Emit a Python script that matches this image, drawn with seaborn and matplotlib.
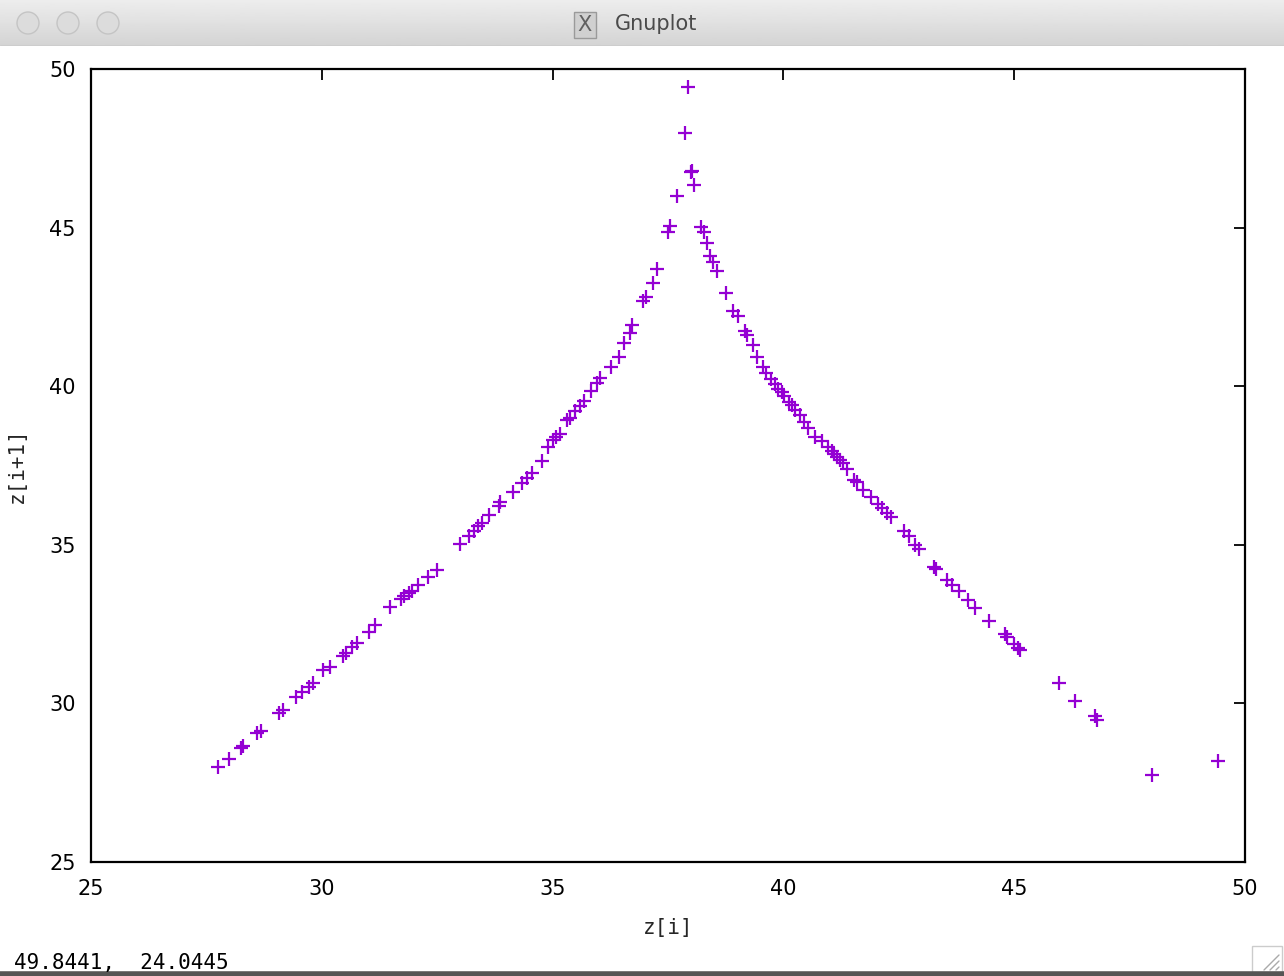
import numpy as np
import pandas as pd
import matplotlib
matplotlib.use("Agg")
import matplotlib.pyplot as plt
import seaborn as sns
from matplotlib.patches import Circle, Rectangle
from matplotlib.lines import Line2D

# ---- data: successive maxima z[i] -> z[i+1] (Lorenz map) ----
left_zi = [27.75, 27.99, 28.25, 28.29, 28.60, 28.68, 29.07, 29.16, 29.44, 29.57,
           29.72, 29.81, 30.03, 30.18, 30.46, 30.52, 30.65, 30.76, 31.02, 31.15,
           31.48, 31.72, 31.78, 31.89, 31.95, 32.08, 32.30, 32.50, 32.99, 33.19,
           33.30, 33.38, 33.47, 33.62, 33.84, 33.86, 34.14, 34.34, 34.45, 34.55,
           34.77, 34.90, 35.01, 35.07, 35.16, 35.31, 35.38, 35.49, 35.59, 35.68,
           35.83, 35.96, 36.03, 36.27, 36.44, 36.55, 36.68, 36.72, 36.96, 37.02,
           37.18, 37.26, 37.50, 37.54, 37.70, 37.87, 37.93, 38.00, 38.02, 38.06]
left_zi1 = [28.00, 28.25, 28.59, 28.66, 29.07, 29.13, 29.70, 29.79, 30.20, 30.36,
            30.52, 30.64, 31.05, 31.15, 31.49, 31.59, 31.78, 31.90, 32.25, 32.47,
            33.04, 33.29, 33.39, 33.48, 33.54, 33.73, 33.98, 34.21, 35.03, 35.28,
            35.44, 35.59, 35.69, 35.94, 36.22, 36.35, 36.66, 36.95, 37.11, 37.26,
            37.64, 38.08, 38.30, 38.40, 38.49, 38.93, 39.00, 39.22, 39.38, 39.53,
            39.85, 40.10, 40.26, 40.61, 40.92, 41.36, 41.68, 41.93, 42.69, 42.81,
            43.25, 43.69, 44.86, 45.05, 46.00, 47.98, 49.43, 46.76, 46.78, 46.34]

right_zi = [38.21, 38.28, 38.34, 38.41, 38.47, 38.56, 38.76, 38.91, 39.02, 39.17,
            39.21, 39.34, 39.43, 39.56, 39.62, 39.73, 39.82, 39.88, 39.97, 40.01,
            40.12, 40.19, 40.25, 40.36, 40.45, 40.53, 40.68, 40.84, 40.97, 41.05,
            41.10, 41.16, 41.23, 41.29, 41.38, 41.53, 41.59, 41.72, 41.90, 42.05,
            42.14, 42.24, 42.33, 42.61, 42.72, 42.85, 42.94, 43.26, 43.31, 43.54,
            43.65, 43.80, 44.00, 44.15, 44.45, 44.80, 44.84, 44.99, 45.08, 45.13,
            45.97, 46.32, 46.75, 46.79, 47.98, 49.41]
right_zi1 = [45.02, 44.86, 44.51, 44.10, 43.92, 43.63, 42.94, 42.37, 42.21, 41.74,
             41.61, 41.30, 40.92, 40.61, 40.42, 40.23, 40.07, 39.91, 39.82, 39.69,
             39.50, 39.41, 39.25, 39.09, 38.87, 38.68, 38.40, 38.27, 38.08, 37.96,
             37.86, 37.77, 37.67, 37.58, 37.39, 37.04, 36.98, 36.73, 36.51, 36.29,
             36.16, 36.00, 35.88, 35.44, 35.28, 34.99, 34.87, 34.30, 34.24, 33.89,
             33.73, 33.54, 33.26, 33.01, 32.60, 32.19, 32.09, 31.87, 31.75, 31.68,
             30.64, 30.08, 29.60, 29.48, 27.74, 28.18]

x_ticks = [25, 30, 35, 40, 45, 50]
y_ticks = [25, 30, 35, 40, 45, 50]
x_label = "z[i]"
y_label = "z[i+1]"
window_title = "Gnuplot"
status_text = "49.8441,  24.0445"

df = pd.DataFrame({"zi": left_zi + right_zi, "zi1": left_zi1 + right_zi1})

sns.set_style("white")
plt.rcParams["font.family"] = ["DejaVu Sans"]

W, H = 1284, 976
fig = plt.figure(figsize=(W / 100, H / 100), dpi=100)
fig.patch.set_facecolor("white")

ax = fig.add_axes([91 / W, 1 - 862 / H, (1245 - 91) / W, (862 - 69) / H])
sns.scatterplot(data=df, x="zi", y="zi1", marker="+", color="#9400D3",
                s=105, linewidth=1.6, ax=ax, legend=False)
ax.set_xlim(25, 50)
ax.set_ylim(25, 50)
ax.set_xticks(x_ticks)
ax.set_yticks(y_ticks)
ax.tick_params(direction="in", length=8, width=1.3, top=True, right=True,
               labelsize=15, pad=11, colors="black")
ax.tick_params(axis="x", pad=12)
for sp in ax.spines.values():
    sp.set_linewidth(1.6)
    sp.set_color("black")
ax.set_xlabel(x_label, fontsize=15, family="DejaVu Sans Mono", labelpad=14)
ax.set_ylabel(y_label, fontsize=15, family="DejaVu Sans Mono", labelpad=16)

# ---- window chrome ----
tb = fig.add_axes([0, 1 - 46 / H, 1, 46 / H])
grad = np.linspace(0.93, 0.83, 50).reshape(-1, 1)
tb.imshow(grad, cmap="gray", vmin=0, vmax=1, aspect="auto",
          extent=[0, W, 46, 0])
tb.set_xlim(0, W)
tb.set_ylim(46, 0)
tb.axis("off")
for cx in (28, 68, 108):
    tb.add_patch(Circle((cx, 23), 11, facecolor="#dcdcdc", edgecolor="#c4c4c4", lw=1))
tb.add_patch(Rectangle((574, 12), 22, 26, facecolor="#d0d0d0", edgecolor="#9a9a9a", lw=1))
tb.text(585, 25, "X", ha="center", va="center", fontsize=15, color="#606060")
tb.text(615, 24, window_title, ha="left", va="center", fontsize=15, color="#4a4a4a")
tb.plot([0, W], [45.5, 45.5], color="#b5b5b5", lw=1)

fig.text(14 / W, 1 - 963 / H, status_text, ha="left", va="center",
         fontsize=15, family="DejaVu Sans Mono", color="black")
fig.add_artist(Line2D([0, 1], [2.5 / H, 2.5 / H], color="#555555", lw=4))
fig.add_artist(Rectangle((1252 / W, 4 / H), 30 / W, 26 / H, facecolor="white",
                         edgecolor="#cccccc", lw=1))
for k in range(3):
    o = 8 + k * 6
    fig.add_artist(Line2D([(1256 + o) / W, (1279) / W],
                          [6 / H, (6 + 23 - o) / H], color="#aaaaaa", lw=1))

fig.savefig("out.png", dpi=100)
